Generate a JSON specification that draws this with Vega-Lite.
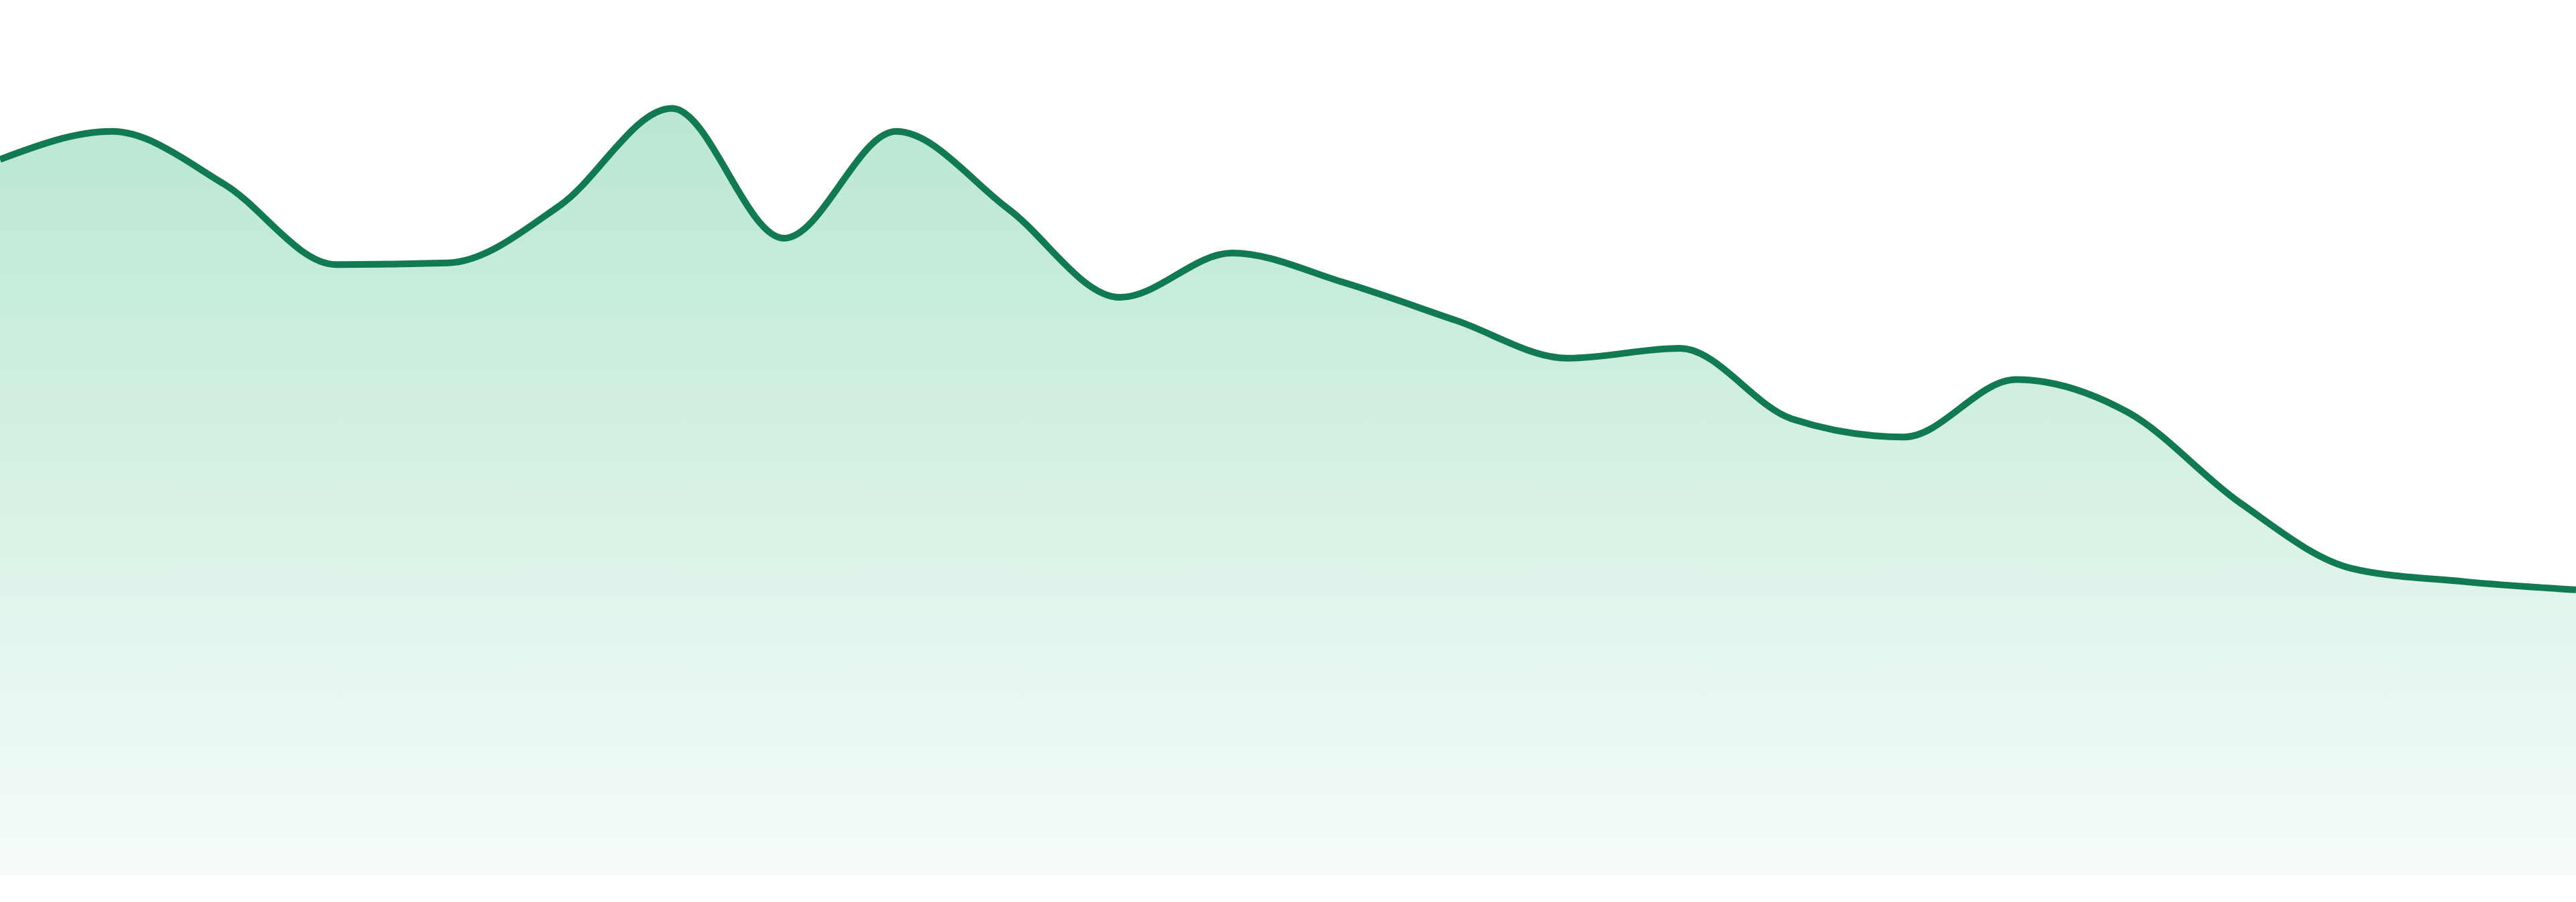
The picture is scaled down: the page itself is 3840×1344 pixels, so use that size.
{
  "$schema": "https://vega.github.io/schema/vega-lite/v6.json",
  "width": 3840,
  "height": 1344,
  "autosize": {"type": "none"},
  "padding": 0,
  "background": "white",
  "data": {
    "values": [
      {"i": 0, "v": 436}, {"i": 1, "v": 453}, {"i": 2, "v": 421},
      {"i": 3, "v": 372}, {"i": 4, "v": 373}, {"i": 5, "v": 408},
      {"i": 6, "v": 467}, {"i": 7, "v": 388}, {"i": 8, "v": 453},
      {"i": 9, "v": 406}, {"i": 10, "v": 352}, {"i": 11, "v": 379},
      {"i": 12, "v": 361}, {"i": 13, "v": 338}, {"i": 14, "v": 315},
      {"i": 15, "v": 321}, {"i": 16, "v": 278}, {"i": 17, "v": 267},
      {"i": 18, "v": 302}, {"i": 19, "v": 282}, {"i": 20, "v": 227},
      {"i": 21, "v": 187}, {"i": 22, "v": 179}, {"i": 23, "v": 174}
    ]
  },
  "encoding": {
    "x": {
      "field": "i",
      "type": "quantitative",
      "scale": {"domain": [0, 23], "nice": false},
      "axis": null
    },
    "y": {
      "field": "v",
      "type": "quantitative",
      "scale": {"domain": [-16, 533], "nice": false, "zero": false},
      "axis": null
    }
  },
  "layer": [
    {
      "mark": {
        "type": "area",
        "interpolate": "monotone",
        "clip": true,
        "color": {
          "gradient": "linear",
          "x1": 0, "y1": 0, "x2": 0, "y2": 1,
          "stops": [
            {"offset": 0, "color": "#b9e7d2"},
            {"offset": 1, "color": "#f6fcf9"}
          ]
        }
      },
      "encoding": {"y2": {"datum": 0}}
    },
    {
      "mark": {
        "type": "line",
        "interpolate": "monotone",
        "clip": true,
        "color": "#127a51",
        "strokeWidth": 10
      }
    }
  ],
  "config": {"view": {"stroke": null}}
}
